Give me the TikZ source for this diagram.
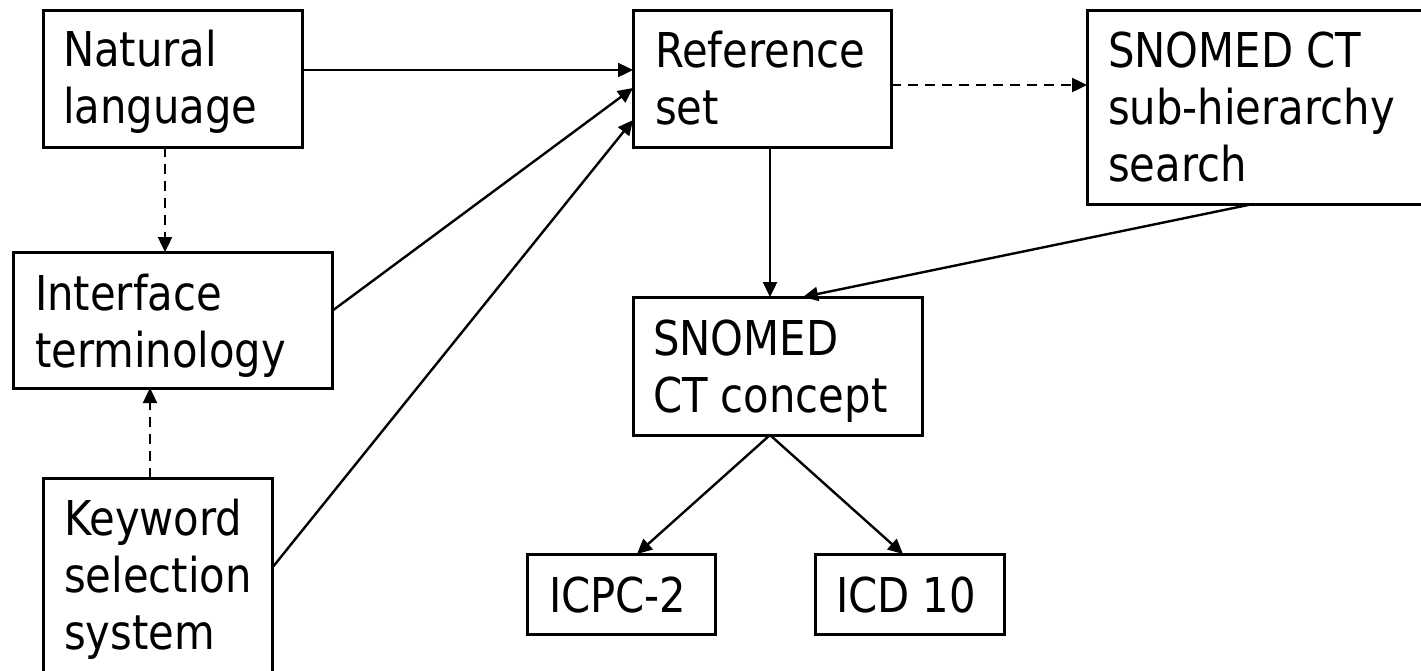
\documentclass[tikz,border=0pt]{standalone}
\usepackage{fontspec}
\setmainfont{DejaVu Sans}[FakeStretch=0.87]
\usetikzlibrary{arrows.meta,calc}
\begin{document}
\begin{tikzpicture}[x=1pt,y=-1pt,
  box/.style={draw,line width=3pt,rectangle,anchor=north west,inner sep=0pt,outer sep=0pt},
  txt/.style={anchor=base west,inner sep=0pt,outer sep=0pt,font=\fontsize{48}{57}\selectfont},
  conn/.style={line width=2.4pt,-{Triangle[length=15pt,width=14pt]}},
  dconn/.style={conn,dash pattern=on 10pt off 7pt}]
\useasboundingbox (0,0) rectangle (1421,670);
\clip (0,0) rectangle (1421,670);
% boxes
\node[box,minimum width=259pt,minimum height=137pt] (nl) at (43,10) {};
\node[box,minimum width=319pt,minimum height=136pt] (itf) at (13,252) {};
\node[box,minimum width=229pt,minimum height=230pt] (kw) at (43,478) {};
\node[box,minimum width=258pt,minimum height=137pt] (ref) at (633,10) {};
\node[box,minimum width=360pt,minimum height=194pt] (sub) at (1087,10) {};
\node[box,minimum width=289pt,minimum height=138pt] (con) at (633,297) {};
\node[box,minimum width=188pt,minimum height=80pt] (icpc) at (527,554) {};
\node[box,minimum width=189pt,minimum height=80pt] (icd) at (815,554) {};
% texts
\node[txt] (tnl) at (63,66) {\begin{tabular}[t]{@{}l@{}}Natural\\language\end{tabular}};
\node[txt] (titf) at (35,310) {\begin{tabular}[t]{@{}l@{}}Interface\\terminology\end{tabular}};
\node[txt] (tkw) at (64,535) {\begin{tabular}[t]{@{}l@{}}Keyword\\selection\\system\end{tabular}};
\node[txt] (tref) at (655,67) {\begin{tabular}[t]{@{}l@{}}Reference\\set\end{tabular}};
\node[txt] (tsub) at (1108,67) {\begin{tabular}[t]{@{}l@{}}SNOMED CT\\sub-hierarchy\\search\end{tabular}};
\node[txt] (tcon) at (653,355) {\begin{tabular}[t]{@{}l@{}}SNOMED\\CT concept\end{tabular}};
\node[txt] (ticpc) at (549,612) {ICPC-2};
\node[txt] (ticd) at (836,612) {ICD 10};
% connectors
\draw[conn] ($(nl.north east)+(0,60)$) -- ($(ref.north west)+(0,60)$);
\draw[conn] ($(itf.north east)+(0,59)$) -- ($(ref.north west)+(0,78)$);
\draw[conn] ($(kw.north east)+(0,90)$) -- ($(ref.north west)+(0,110)$);
\draw[dconn] ($(nl.south west)+(122,0)$) -- ($(itf.north west)+(152,0)$);
\draw[dconn] ($(kw.north west)+(107,0)$) -- ($(itf.south west)+(137,0)$);
\draw[dconn] ($(ref.north east)+(0,75)$) -- ($(sub.north west)+(0,75)$);
\draw[conn] ($(ref.south west)+(137,0)$) -- ($(con.north west)+(137,0)$);
\draw[conn] ($(sub.south west)+(166,0)$) -- ($(con.north west)+(170,0)$);
\draw[conn] ($(con.south west)+(137,0)$) -- ($(icpc.north west)+(110,0)$);
\draw[conn] ($(con.south west)+(137,0)$) -- ($(icd.north west)+(88,0)$);
\end{tikzpicture}
\end{document}
